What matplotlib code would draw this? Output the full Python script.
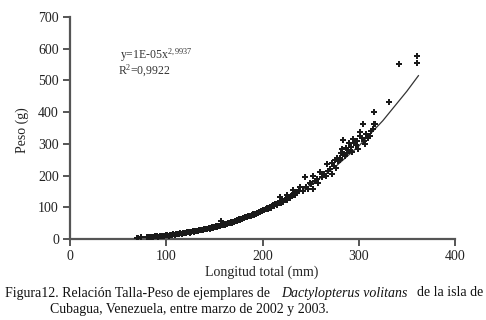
import matplotlib
matplotlib.use("Agg")
import matplotlib.pyplot as plt

plt.rcParams['font.family'] = ['Liberation Serif', 'DejaVu Serif']
plt.rcParams['mathtext.fontset'] = 'custom'
plt.rcParams['mathtext.rm'] = 'Liberation Serif'
plt.rcParams['mathtext.it'] = 'Liberation Serif:italic'

# longitud total (mm) y peso (g)
longitud = [70, 71, 74, 80, 82, 84, 86, 88, 90, 91, 93, 95, 96, 98, 100, 101, 103, 104,
            106, 107, 109, 110, 112, 113, 114, 116, 117, 118, 120, 121, 122, 124, 125,
            126, 128, 129, 130, 131, 133, 134, 135, 136, 138, 139, 140, 141, 142, 144,
            145, 146, 147, 148, 149, 150, 151, 152, 153, 154, 155, 156, 157, 158, 159,
            160, 161, 162, 163, 164, 165, 166, 167, 168, 169, 170, 171, 172, 173, 174,
            175, 176, 177, 178, 179, 180, 181, 182, 183, 184, 185, 186, 187, 188, 189,
            190, 191, 192, 193, 194, 195, 196, 197, 198, 199, 200, 201, 202, 204, 205,
            206, 207, 208, 209, 210, 211, 212, 213, 214, 215, 216, 218, 219, 220, 221,
            223, 224, 225, 226, 228, 229, 230, 232, 233, 234, 236, 238,
            218, 225, 232, 239, 244, 249, 252, 252, 260, 267, 272, 272, 277, 282, 284,
            287, 275, 280, 283, 285, 290, 294, 296, 301, 301, 304, 306, 313, 315, 316,
            316, 317, 331, 342, 361, 361,
            242, 245, 247, 250, 255, 257, 258, 262, 264, 266, 268, 270, 274, 276, 278,
            281, 286, 288, 289, 292, 293, 297, 298, 299, 303, 305, 308, 310, 312]
peso = [4, 3, 5, 6, 5, 7, 6, 8, 9, 7, 10, 9, 11, 10, 12, 13, 11, 14,
        13, 15, 14, 16, 15, 17, 18, 16, 19, 18, 20, 19, 21, 22, 20,
        23, 24, 22, 25, 26, 25, 28, 27, 29, 28, 31, 30, 32, 31, 34,
        33, 35, 34, 37, 36, 38, 37, 40, 39, 41, 42, 40, 58, 44, 43,
        46, 45, 48, 47, 50, 49, 51, 53, 52, 55, 54, 57, 56, 59, 58,
        60, 62, 61, 64, 63, 66, 65, 68, 70, 69, 72, 71, 74, 73, 76,
        78, 77, 80, 79, 83, 82, 85, 84, 88, 87, 90, 92, 91, 95, 97,
        94, 99, 101, 98, 104, 106, 103, 109, 111, 108, 114, 117, 113, 120, 118,
        124, 127, 122, 130, 133, 128, 136, 140, 145, 138, 148, 152,
        131, 138, 153, 163, 194, 178, 200, 159, 212, 237, 241, 206, 256, 272, 312,
        288, 250, 256, 284, 269, 303, 315, 303, 325, 338, 362, 300, 341, 348, 362,
        400, 362, 431, 553, 578, 556,
        150, 165, 158, 172, 182, 190, 178, 196, 205, 200, 215, 222, 230, 224, 245,
        250, 262, 270, 280, 290, 275, 296, 310, 285, 318, 309, 330, 318, 325]

# curva de tendencia (potencial)
curva_x = [75, 100, 125, 150, 175, 200, 225, 250, 275, 300, 325, 350, 362]
curva_y = [5, 11, 21, 37, 58, 87, 124, 170, 226, 293, 373, 466, 515]

fig = plt.figure(figsize=(4.86, 3.2), dpi=100)
ax = fig.add_axes([70 / 486, 1 - 239 / 320, 385 / 486, 222 / 320])

ax.plot(curva_x, curva_y, color='#333333', lw=0.9)
ax.scatter(longitud, peso, marker='P', s=13, color='#1a1a1a', linewidths=0, zorder=3)

ax.set_xlim(0, 400)
ax.set_ylim(0, 700)
ax.set_xticks(range(0, 401, 100))
ax.set_yticks(range(0, 701, 100))
for s in ['top', 'right']:
    ax.spines[s].set_visible(False)
for s in ['left', 'bottom']:
    ax.spines[s].set_color('#555555')
    ax.spines[s].set_linewidth(1.6)
ax.tick_params(direction='out', length=5, width=1.4, color='#555555',
               labelsize=10, labelcolor='#222222', pad=3)

ax.text(52, 580, 'y=1E-05x$^{2,9937}$', fontsize=8.5, color='#333333', va='center')
ax.text(50, 530, 'R$^2$=0,9922', fontsize=8.5, color='#333333', va='center')

fig.text(262 / 486, 1 - 272 / 320, 'Longitud total (mm)', ha='center', va='center',
         fontsize=10, color='#222222')
fig.text(22 / 486, 1 - 130 / 320, 'Peso (g)', ha='center', va='center', rotation=90,
         fontsize=10, color='#222222')

# pie de figura
fig.text(5 / 486, 1 - 293 / 320, 'Figura12. Relación Talla-Peso de ejemplares de',
         ha='left', va='center', fontsize=10, color='#111111')
fig.text(281 / 486, 1 - 293 / 320, 'Dactylopterus volitans', style='italic',
         ha='left', va='center', fontsize=10, color='#111111')
fig.text(483 / 486, 1 - 293 / 320, 'de la isla de',
         ha='right', va='center', fontsize=10, color='#111111')
fig.text(50 / 486, 1 - 310 / 320, 'Cubagua, Venezuela, entre marzo de 2002 y 2003.',
         ha='left', va='center', fontsize=10, color='#111111')

fig.savefig('out.png', dpi=100)
